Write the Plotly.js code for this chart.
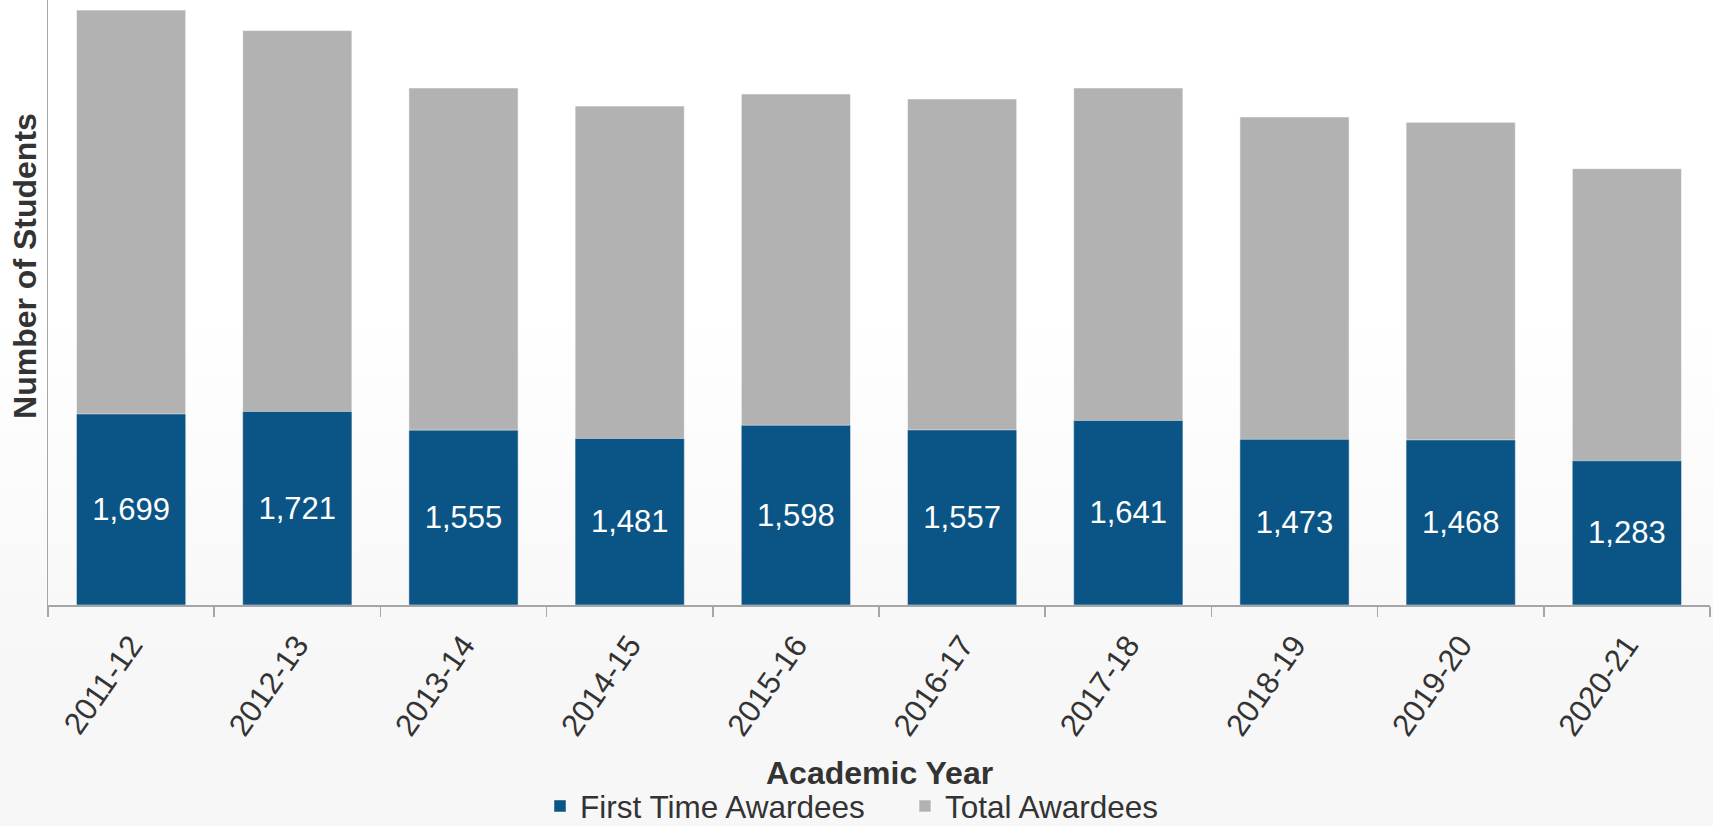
<!DOCTYPE html>
<html>
<head>
<meta charset="utf-8">
<script src="https://cdn.plot.ly/plotly-3.0.1.min.js"></script>
<style>
  html, body { margin: 0; padding: 0; }
  body {
    width: 1713px; height: 826px; overflow: hidden;
    background: linear-gradient(to bottom, #ffffff 0%, #ffffff 38%, #f7f7f7 80%, #f7f7f7 100%);
  }
  #chart { width: 1713px; height: 826px; }
</style>
</head>
<body>
<div id="chart"></div>
<script>
const years = ["2011-12", "2012-13", "2013-14", "2014-15", "2015-16", "2016-17", "2017-18", "2018-19", "2019-20", "2020-21"];
const firstTimeAwardees = [1699, 1721, 1555, 1481, 1598, 1557, 1641, 1473, 1468, 1283];
const totalAwardees = [5290, 5108, 4598, 4437, 4544, 4500, 4598, 4340, 4292, 3880];

const FONT = "Liberation Sans, Arial, sans-serif";
const TEXT = "#333333";

const traces = [
  {
    type: "bar",
    name: "Total Awardees",
    x: years,
    y: totalAwardees,
    marker: { color: "#b2b2b2", line: { color: "rgba(255,255,255,0.55)", width: 1 } },
    legendrank: 2,
    hoverinfo: "skip"
  },
  {
    type: "bar",
    name: "First Time Awardees",
    x: years,
    y: firstTimeAwardees,
    marker: { color: "#0b5586", line: { color: "rgba(255,255,255,0.45)", width: 1 } },
    texttemplate: "%{y:,}",
    textposition: "inside",
    insidetextanchor: "middle",
    textangle: 0,
    constraintext: "none",
    textfont: { family: FONT, size: 31, color: "#ffffff" },
    legendrank: 1,
    hoverinfo: "skip"
  }
];

const layout = {
  width: 1713,
  height: 826,
  margin: { l: 48, r: 3, t: 0, b: 221, pad: 0 },
  paper_bgcolor: "rgba(0,0,0,0)",
  plot_bgcolor: "rgba(0,0,0,0)",
  barmode: "overlay",
  bargap: 0.343,
  font: { family: FONT, color: TEXT },
  showlegend: true,
  legend: {
    orientation: "h",
    xref: "paper",
    yref: "container",
    x: (540 - 48) / 1662,
    xanchor: "left",
    y: 1 - 806 / 826,
    yanchor: "middle",
    entrywidth: 320,
    font: { family: FONT, size: 31.5, color: TEXT },
    bgcolor: "rgba(0,0,0,0)",
    itemclick: false
  },
  xaxis: {
    type: "category",
    showline: true,
    linecolor: "#a6a6a6",
    linewidth: 1.5,
    ticks: "outside",
    tickson: "boundaries",
    ticklen: 10,
    tickcolor: "#a6a6a6",
    tickwidth: 1.5,
    tickangle: -55,
    ticklabelstandoff: 8,
    tickfont: { family: FONT, size: 31, color: TEXT },
    showgrid: false,
    zeroline: false,
    automargin: false
  },
  yaxis: {
    range: [0, 5380],
    showline: true,
    linecolor: "#a6a6a6",
    linewidth: 1.5,
    showticklabels: false,
    ticks: "",
    showgrid: false,
    zeroline: false,
    automargin: false
  },
  annotations: [
    {
      text: "<b>Number of Students</b>",
      textangle: -90,
      xref: "paper", yref: "paper",
      x: (25.5 - 48) / 1662, y: (604 - 266) / 604,
      xanchor: "center", yanchor: "middle",
      showarrow: false,
      font: { family: FONT, size: 32, color: TEXT }
    },
    {
      text: "<b>Academic Year</b>",
      xref: "paper", yref: "paper",
      x: 0.5, y: (604 - 772) / 604,
      xanchor: "center", yanchor: "middle",
      showarrow: false,
      font: { family: FONT, size: 32, color: TEXT }
    }
  ]
};

Plotly.newPlot("chart", traces, layout, { displayModeBar: false, staticPlot: true });
</script>
</body>
</html>
